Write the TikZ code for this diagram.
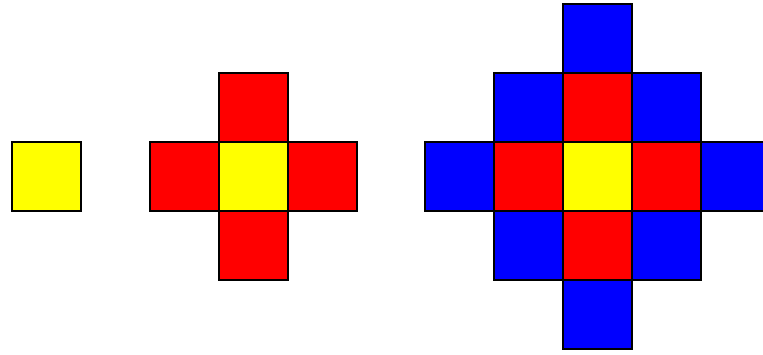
\documentclass[tikz,border=0pt]{standalone}
\begin{document}
\begin{tikzpicture}[x=1pt,y=-1pt,
  cell/.style={draw=black,line width=2.6pt,line join=miter}]
\definecolor{cY}{RGB}{255,255,0}
\definecolor{cR}{RGB}{255,0,0}
\definecolor{cB}{RGB}{0,0,255}
\useasboundingbox (0,0) rectangle (763,354);
\clip (0,0) rectangle (763,354);
\def\s{69}
% figure 1
\draw[cell,fill=cY] (12,142) rectangle ++(\s,\s);
% figure 2
\foreach \dx/\dy/\c in {-1/0/cR,1/0/cR,0/-1/cR,0/1/cR,0/0/cY}
  \draw[cell,fill=\c] (219+\dx*\s,142+\dy*\s) rectangle ++(\s,\s);
% figure 3
\foreach \dx/\dy/\c in {-2/0/cB,2/0/cB,0/-2/cB,0/2/cB,-1/-1/cB,1/-1/cB,-1/1/cB,1/1/cB,
                        -1/0/cR,1/0/cR,0/-1/cR,0/1/cR,0/0/cY}
  \draw[cell,fill=\c] (563+\dx*\s,142+\dy*\s) rectangle ++(\s,\s);
\end{tikzpicture}
\end{document}
